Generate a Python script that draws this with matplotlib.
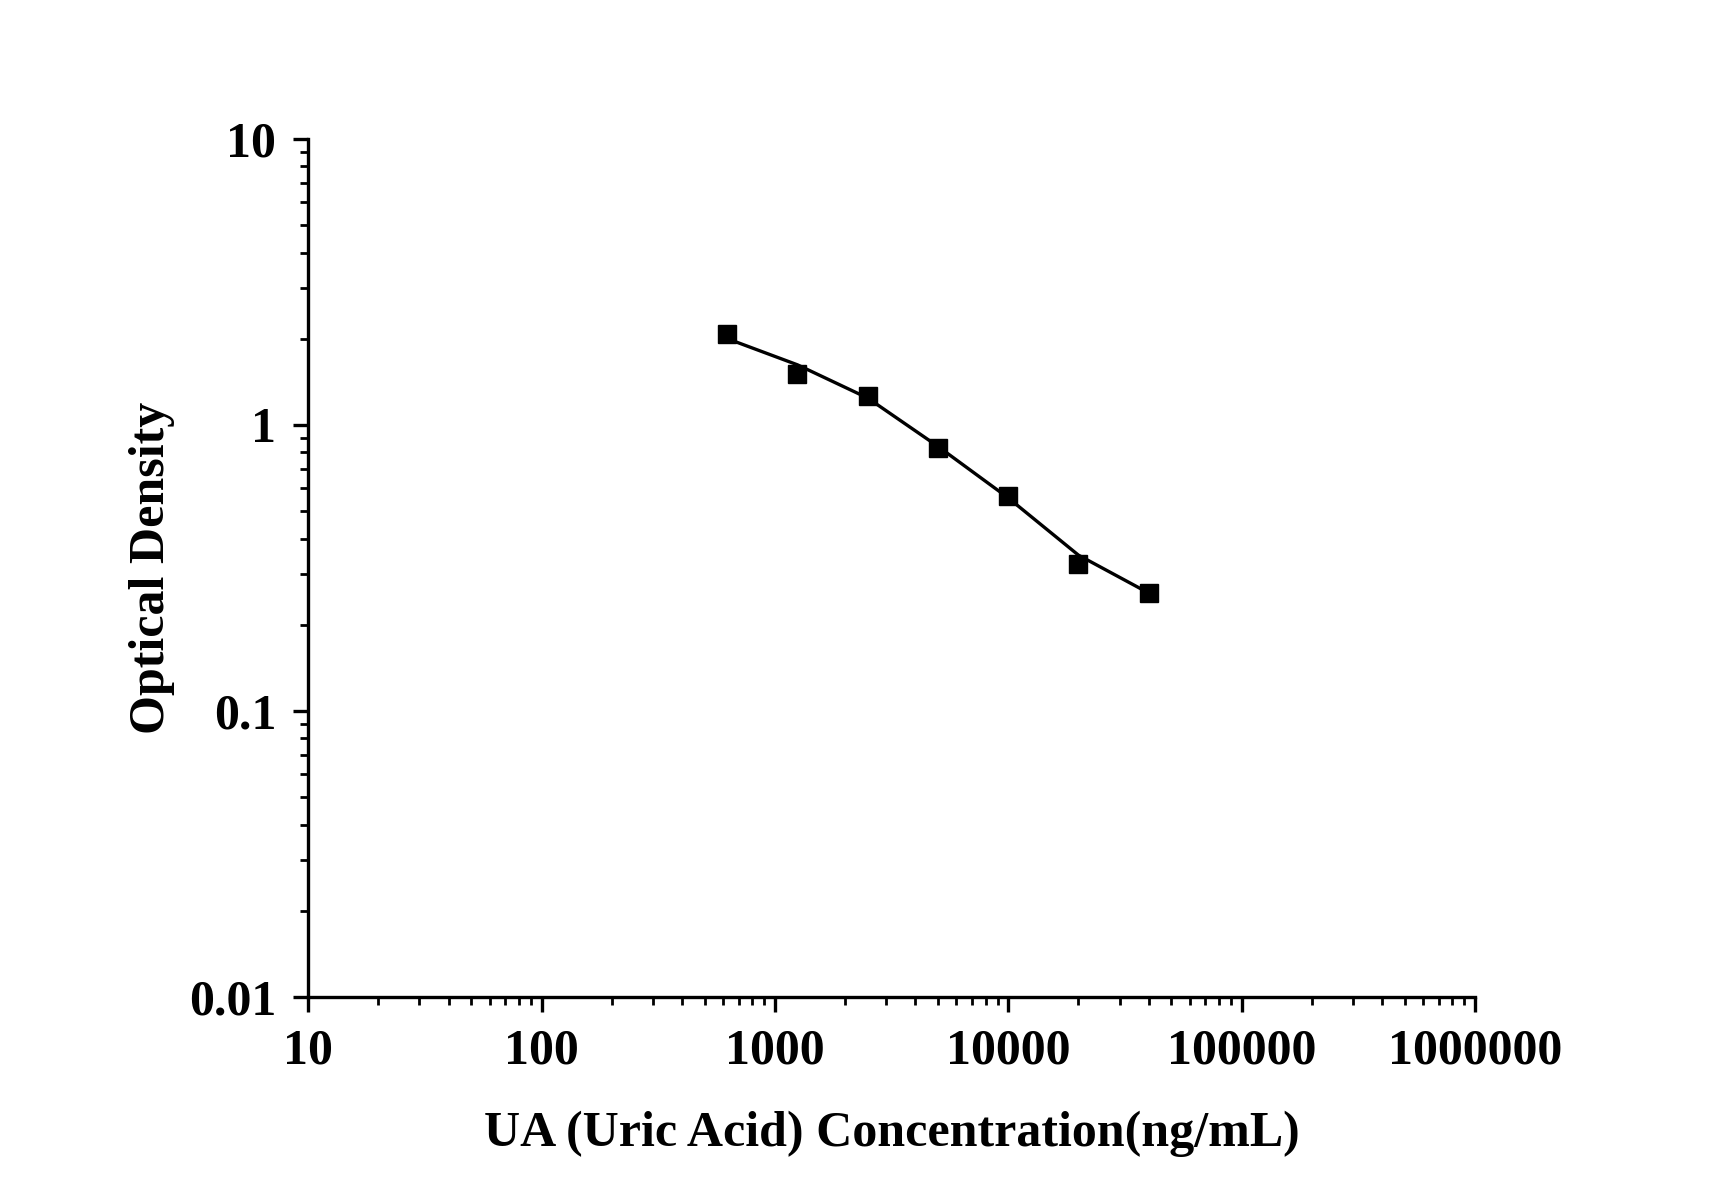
import matplotlib
matplotlib.use("Agg")
import matplotlib.pyplot as plt
from matplotlib.ticker import LogLocator, FixedLocator, FixedFormatter, NullFormatter

# Data
concentration = [625, 1250, 2500, 5000, 10000, 20000, 40000]
od_measured = [2.07, 1.51, 1.256, 0.831, 0.565, 0.327, 0.258]
od_fit = [2.00, 1.62, 1.24, 0.84, 0.555, 0.35, 0.258]

x_ticks = [10, 100, 1000, 10000, 100000, 1000000]
x_ticklabels = ["10", "100", "1000", "10000", "100000", "1000000"]
y_ticks = [0.01, 0.1, 1, 10]
y_ticklabels = ["0.01", "0.1", "1", "10"]

plt.rcParams['font.family'] = ['Liberation Serif', 'DejaVu Serif']
plt.rcParams['font.weight'] = 'bold'

fig = plt.figure(figsize=(17.12, 11.96), dpi=100)
ax = fig.add_axes([0.180, 0.1666, 0.6815, 0.7174])

ax.plot(concentration, od_fit, color='black', linewidth=2.4, zorder=2)
ax.plot(concentration, od_measured, linestyle='none', marker='s', markersize=13,
        color='black', zorder=3)

ax.set_xscale('log')
ax.set_yscale('log')
ax.set_xlim(10, 1000000)
ax.set_ylim(0.01, 10)

ax.xaxis.set_major_locator(FixedLocator(x_ticks))
ax.xaxis.set_major_formatter(FixedFormatter(x_ticklabels))
ax.yaxis.set_major_locator(FixedLocator(y_ticks))
ax.yaxis.set_major_formatter(FixedFormatter(y_ticklabels))
ax.xaxis.set_minor_locator(LogLocator(base=10, subs=range(2, 10), numticks=20))
ax.yaxis.set_minor_locator(LogLocator(base=10, subs=range(2, 10), numticks=20))
ax.xaxis.set_minor_formatter(NullFormatter())
ax.yaxis.set_minor_formatter(NullFormatter())

for s in ['top', 'right']:
    ax.spines[s].set_visible(False)
for s in ['left', 'bottom']:
    ax.spines[s].set_linewidth(2.4)

ax.tick_params(which='major', direction='out', length=11, width=2.4,
               labelsize=36, pad=12)
ax.tick_params(which='minor', direction='out', length=5.5, width=2.0)
for lbl in ax.get_xticklabels() + ax.get_yticklabels():
    lbl.set_fontweight('bold')

ax.set_xlabel('UA (Uric Acid) Concentration(ng/mL)', fontsize=36,
              fontweight='bold', labelpad=26)
ax.set_ylabel('Optical Density', fontsize=36, fontweight='bold', labelpad=10)

fig.savefig('out.png', dpi=100, facecolor='white')
